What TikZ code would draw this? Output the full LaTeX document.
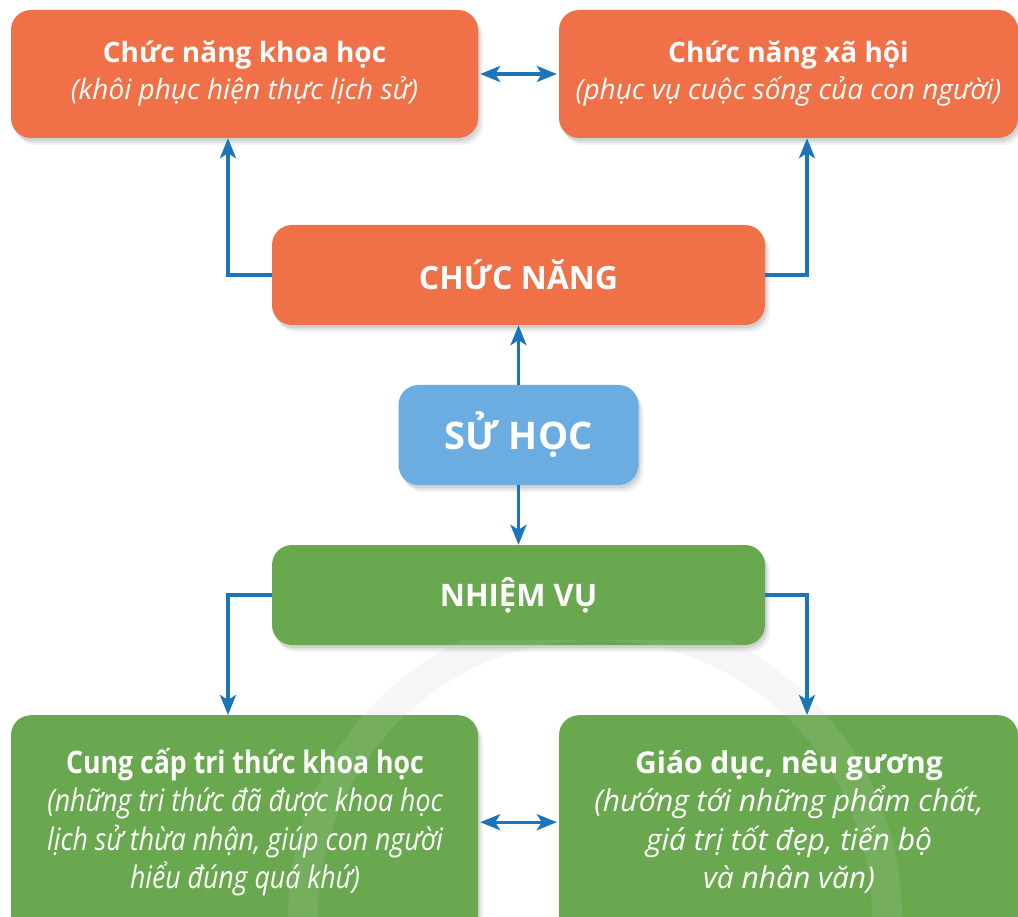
\documentclass[tikz,border=0pt]{standalone}
\usepackage{fontspec}
\setmainfont{Open Sans}
\usetikzlibrary{arrows.meta}
\definecolor{borange}{RGB}{240,112,72}
\definecolor{bgreen}{RGB}{106,168,80}
\definecolor{bblue}{RGB}{107,173,225}
\definecolor{lblue}{RGB}{26,117,188}
\tikzset{
  basebox/.style={rounded corners=20pt, text=white, align=center, inner sep=0pt,
    preaction={fill=black, opacity=0.05, transform canvas={shift={(5pt,-7pt)}}},
    preaction={fill=black, opacity=0.06, transform canvas={shift={(3pt,-5pt)}}},
    preaction={fill=black, opacity=0.07, transform canvas={shift={(1.5pt,-3pt)}}}},
  obox/.style={basebox, fill=borange},
  gbox/.style={basebox, fill=bgreen},
  bbox/.style={basebox, fill=bblue},
  tip/.tip={Stealth[length=20pt,width=16pt,inset=5pt]},
  conn/.style={draw=lblue, line width=3.4pt, -tip},
  dconn/.style={draw=lblue, line width=3.4pt, tip-tip, shorten <=2pt, shorten >=2pt},
  ttl/.style={font=\fontsize{28}{37}\selectfont},
  cond/.style={align=center, text=white, font=\fontsize{31}{38.5}\selectfont\addfontfeature{FakeStretch=0.86}},
}
\begin{document}
\begin{tikzpicture}[x=1pt,y=-1pt]
\useasboundingbox (0,0) rectangle (1018,917);
\fill[white] (0,0) rectangle (1018,917);
\clip (0,0) rectangle (1018,917);

% faint watermark ring
\draw[line width=30pt, black, opacity=0.035] (595,917) circle (292pt);

\node[obox, ttl, minimum width=467pt, minimum height=128pt] (A) at (244.5,74)
  {{\bfseries Chức năng khoa học}\\{\itshape (khôi phục hiện thực lịch sử)}};
\node[obox, ttl, minimum width=459pt, minimum height=128pt] (B) at (788.5,74)
  {{\bfseries Chức năng xã hội}\\{\itshape (phục vụ cuộc sống của con người)}};
\node[obox, minimum width=493pt, minimum height=100pt, font=\fontsize{32}{36}\selectfont\bfseries] (C) at (518.5,275) {CHỨC NĂNG};
\node[bbox, minimum width=240pt, minimum height=100pt, font=\fontsize{38}{40}\selectfont\bfseries] (D) at (518.5,435) {SỬ HỌC};
\node[gbox, minimum width=493pt, minimum height=100pt, font=\fontsize{31}{34}\selectfont\bfseries] (E) at (518.5,595) {NHIỆM VỤ};
\node[gbox, minimum width=467pt, minimum height=240pt, anchor=north] (F) at (244.5,715) {};
\node[gbox, minimum width=459pt, minimum height=240pt, anchor=north] (G) at (788.5,715) {};

% watermark over the green boxes (light)
\begin{scope}
\clip (0,640) rectangle (1018,917);
\draw[line width=30pt, white, opacity=0.08] (595,917) circle (292pt);
\end{scope}

\node[cond] (Ft) at (245,822)
  {{\bfseries Cung cấp tri thức khoa học}\\{\itshape (những tri thức đã được khoa học}\\{\itshape lịch sử thừa nhận, giúp con người}\\{\itshape hiểu đúng quá khứ)}};
\node[align=center, text=white, font=\fontsize{30}{38.5}\selectfont] (Gt) at (789,822)
  {{\bfseries Giáo dục, nêu gương}\\{\itshape (hướng tới những phẩm chất,}\\{\itshape giá trị tốt đẹp, tiến bộ}\\{\itshape và nhân văn)}};

\draw[conn] (C.west) -| ([xshift=-16.5pt]A.south);
\draw[conn] (C.east) -| ([xshift=18.5pt]B.south);
\draw[conn] (D.north) -- (C.south);
\draw[conn] (D.south) -- (E.north);
\draw[conn] (E.west) -| ([xshift=-16.5pt]F.north);
\draw[conn] (E.east) -| ([xshift=18.5pt]G.north);
\draw[dconn] (A.east) -- (B.west);
\draw[dconn] ([yshift=13pt]F.east) -- ([yshift=13pt]G.west);
\end{tikzpicture}
\end{document}
